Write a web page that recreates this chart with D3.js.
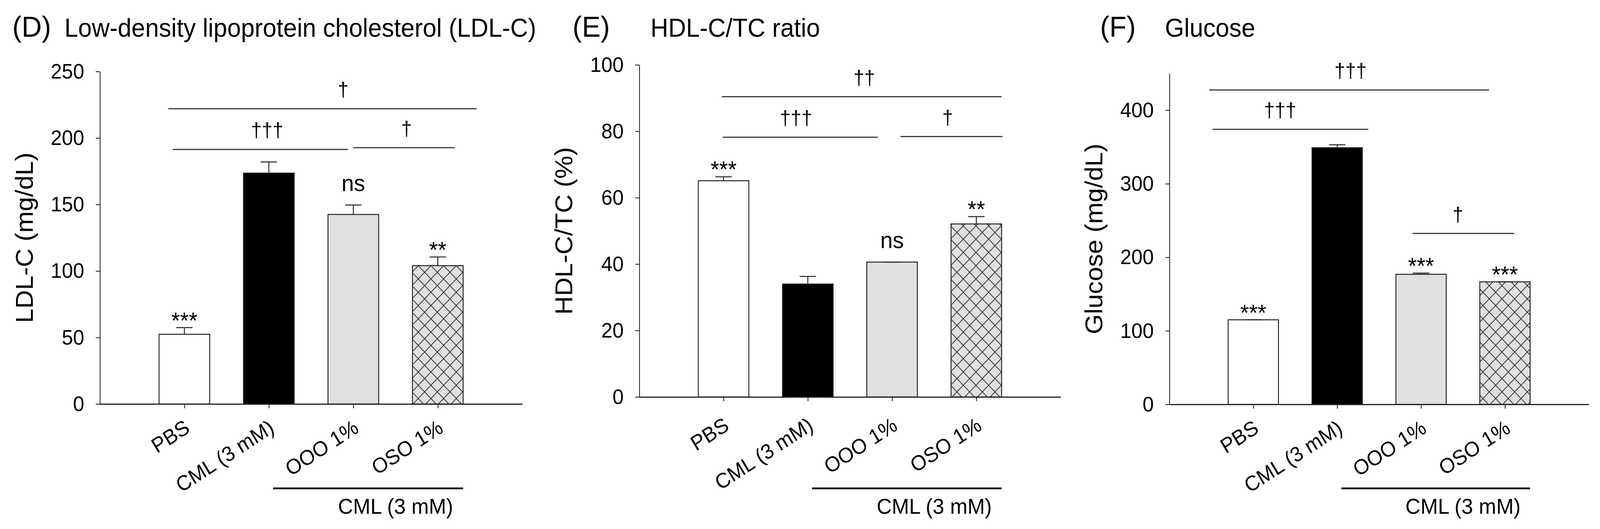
<!DOCTYPE html>
<html>
<head>
<meta charset="utf-8">
<script src="https://cdn.jsdelivr.net/npm/d3@7"></script>
<style>
  html, body { margin: 0; padding: 0; background: #fff; overflow: hidden; }
  svg { display: block; }
  svg text { font-family: "Liberation Sans", Arial, sans-serif; fill: #000; }
</style>
</head>
<body>
<div id="container"></div>
<script>
// groups shared by all three panels
const groups = ["PBS", "CML (3 mM)", "OOO 1%", "OSO 1%"];

// (D) LDL-C, mg/dL
const ldlMean = [52.4, 173.6, 142.5, 104.0];
const ldlErr = [5.0, 8.4, 7.1, 6.5];
const ldlMarks = ["***", "", "ns", "**"];
const ldlTicks = [0, 50, 100, 150, 200, 250];
const ldlSig = [
  { from: 0.81, to: 4.46, y: 222, label: "†", at: 2.88 },
  { from: 0.865, to: 2.935, y: 191.4, label: "†††", at: 1.98 },
  { from: 3.0, to: 4.2, y: 192.7, label: "†", at: 3.63 }
];

// (E) HDL-C/TC ratio, %
const hdlMean = [65.1, 34.0, 40.6, 52.1];
const hdlErr = [1.2, 2.3, 0, 2.2];
const hdlMarks = ["***", "", "ns", "**"];
const hdlTicks = [0, 20, 40, 60, 80, 100];
const hdlSig = [
  { from: 0.98, to: 4.30, y: 90.4, label: "††", at: 2.67 },
  { from: 0.99, to: 2.83, y: 78.2, label: "†††", at: 1.86 },
  { from: 3.10, to: 4.31, y: 78.4, label: "†", at: 3.66 }
];

// (F) Glucose, mg/dL
const gluMean = [115, 349, 176.9, 166.6];
const gluErr = [0, 4, 1.6, 0];
const gluMarks = ["***", "", "***", "***"];
const gluTicks = [0, 100, 200, 300, 400];
const gluSig = [
  { from: 0.475, to: 3.81, y: 427.5, label: "†††", at: 2.16 },
  { from: 0.515, to: 2.37, y: 374, label: "†††", at: 1.32 },
  { from: 2.9, to: 4.11, y: 232.4, label: "†", at: 3.44 }
];

// bracket under the CML-treated groups (in group units)
const cmlBracket = { from: 2.05, to: 4.3, label: "CML (3 mM)", at: 3.5 };

const W = 4292, H = 1354;
const ink = "#222";
const fills = ["#ffffff", "#000000", "#e0e0e0", "url(#hatch)"];

// the figure is laid out at 4292x1354 and stretched onto whatever the window is
const svg = d3.select("#container").append("svg")
    .attr("viewBox", `0 0 ${W} ${H}`)
    .attr("preserveAspectRatio", "none")
    .style("width", "100vw")
    .style("height", "100vh");

// crosshatch for the OSO bars
const pat = svg.append("defs").append("pattern")
    .attr("id", "hatch")
    .attr("patternUnits", "userSpaceOnUse")
    .attr("width", 34)
    .attr("height", 34);
pat.append("rect").attr("width", 34).attr("height", 34).attr("fill", "#e0e0e0");
pat.append("path")
    .attr("d", "M0,0L34,34M34,0L0,34M-17,17L17,51M17,-17L51,17M51,17L17,51M17,-17L-17,17")
    .attr("stroke", "#333")
    .attr("stroke-width", 2)
    .attr("fill", "none");

const panels = [
  { tag: "(D)", title: "Low-density lipoprotein cholesterol (LDL-C)", yLabel: "LDL-C (mg/dL)",
    mean: ldlMean, err: ldlErr, marks: ldlMarks, ticks: ldlTicks, sig: ldlSig, max: 250,
    x0: 268, x1: 1401, yTop: 183, yZero: 1034, tagX: 33, titleX: 173, lblDy: 0 },
  { tag: "(E)", title: "HDL-C/TC ratio", yLabel: "HDL-C/TC (%)",
    mean: hdlMean, err: hdlErr, marks: hdlMarks, ticks: hdlTicks, sig: hdlSig, max: 100,
    x0: 1715, x1: 2845, yTop: 166, yZero: 1016, tagX: 1536, titleX: 1745, lblDy: 12 },
  { tag: "(F)", title: "Glucose", yLabel: "Glucose (mg/dL)",
    mean: gluMean, err: gluErr, marks: gluMarks, ticks: gluTicks, sig: gluSig, max: 450,
    x0: 3137, x1: 4262, yTop: 188, yZero: 1035, tagX: 2951, titleX: 3125, lblDy: 0 }
];

panels.forEach(p => {
  const g = svg.append("g");

  const x = d3.scaleLinear().domain([0, 5]).range([p.x0, p.x1]);
  const y = d3.scaleLinear().domain([0, p.max]).range([p.yZero, p.yTop]);
  const unit = x(1) - x(0);

  // panel tag and title
  g.append("text").attr("x", p.tagX).attr("y", 94)
      .style("font-size", "75px").text(p.tag);
  g.append("text").attr("x", p.titleX).attr("y", 94)
      .style("font-size", "66px").text(p.title);

  // bars
  g.selectAll(".bar")
    .data(groups)
    .enter().append("rect")
      .attr("class", "bar")
      .attr("x", (d, i) => x(i + 1 - 0.3))
      .attr("y", (d, i) => y(p.mean[i]))
      .attr("width", unit * 0.6)
      .attr("height", (d, i) => y(0) - y(p.mean[i]))
      .attr("fill", (d, i) => fills[i])
      .attr("stroke", ink)
      .attr("stroke-width", 2.5);

  // error bars (upper half only)
  const eb = g.selectAll(".err")
    .data(groups)
    .enter().append("g")
      .attr("class", "err")
      .attr("stroke", ink)
      .attr("stroke-width", 2.5);
  eb.append("line")
      .attr("x1", (d, i) => x(i + 1)).attr("x2", (d, i) => x(i + 1))
      .attr("y1", (d, i) => y(p.mean[i]))
      .attr("y2", (d, i) => y(p.mean[i] + p.err[i]));
  eb.append("line")
      .attr("x1", (d, i) => x(i + 1) - 22).attr("x2", (d, i) => x(i + 1) + 22)
      .attr("y1", (d, i) => y(p.mean[i] + p.err[i]))
      .attr("y2", (d, i) => y(p.mean[i] + p.err[i]));

  // significance marks over bars
  g.selectAll(".mark")
    .data(groups)
    .enter().append("text")
      .attr("class", "mark")
      .attr("x", (d, i) => x(i + 1))
      .attr("y", (d, i) => y(p.mean[i] + p.err[i]) + (p.marks[i] === "ns" ? -36 : 2))
      .attr("text-anchor", "middle")
      .style("font-size", "60px")
      .text((d, i) => p.marks[i]);

  // comparison lines with daggers
  const sg = g.selectAll(".sig")
    .data(p.sig)
    .enter().append("g")
      .attr("class", "sig");
  sg.append("line")
      .attr("x1", d => x(d.from)).attr("x2", d => x(d.to))
      .attr("y1", d => y(d.y)).attr("y2", d => y(d.y))
      .attr("stroke", "#3a3a3a")
      .attr("stroke-width", 3);
  sg.append("text")
      .attr("x", d => x(d.at))
      .attr("y", d => y(d.y) - 31)
      .attr("text-anchor", "middle")
      .style("font-size", "52px")
      .text(d => d.label);

  // y axis
  const yAxis = g.append("g")
      .attr("class", "y-axis")
      .attr("transform", `translate(${p.x0},0)`)
      .call(d3.axisLeft(y).tickValues(p.ticks).tickSize(11).tickSizeOuter(0).tickPadding(31));
  yAxis.select(".domain").attr("stroke", ink).attr("stroke-width", 2.2);
  yAxis.selectAll(".tick line").attr("stroke", ink).attr("stroke-width", 2.2);
  yAxis.selectAll(".tick text")
      .style("font-size", "54px")
      .style("font-family", "'Liberation Sans', Arial, sans-serif")
      .attr("fill", "#000");

  // x axis
  const xAxis = g.append("g")
      .attr("class", "x-axis")
      .attr("transform", `translate(0,${p.yZero})`)
      .call(d3.axisBottom(x).tickValues([1, 2, 3, 4]).tickSize(11).tickSizeOuter(0).tickFormat(""));
  xAxis.select(".domain").attr("stroke", ink).attr("stroke-width", 2.8);
  xAxis.selectAll(".tick line").attr("stroke", ink).attr("stroke-width", 2.2);

  // rotated group labels
  g.selectAll(".xlab")
    .data(groups)
    .enter().append("text")
      .attr("class", "xlab")
      .attr("text-anchor", "end")
      .attr("transform", (d, i) => `translate(${x(i + 1) + 18},${p.yZero + 70 + p.lblDy}) rotate(-32)`)
      .style("font-size", "54px")
      .text(d => d);

  // bracket for the CML-treated groups
  g.append("line")
      .attr("x1", x(cmlBracket.from)).attr("x2", x(cmlBracket.to))
      .attr("y1", 1250).attr("y2", 1250)
      .attr("stroke", "#000")
      .attr("stroke-width", 4.5);
  g.append("text")
      .attr("x", x(cmlBracket.at))
      .attr("y", 1315)
      .attr("text-anchor", "middle")
      .style("font-size", "56px")
      .text(cmlBracket.label);

  // y-axis label
  g.append("text")
      .attr("transform", `translate(${p.x0 - 180},${(p.yTop + p.yZero) / 2}) rotate(-90)`)
      .attr("text-anchor", "middle")
      .style("font-size", "66px")
      .text(p.yLabel);
});
</script>
</body>
</html>
